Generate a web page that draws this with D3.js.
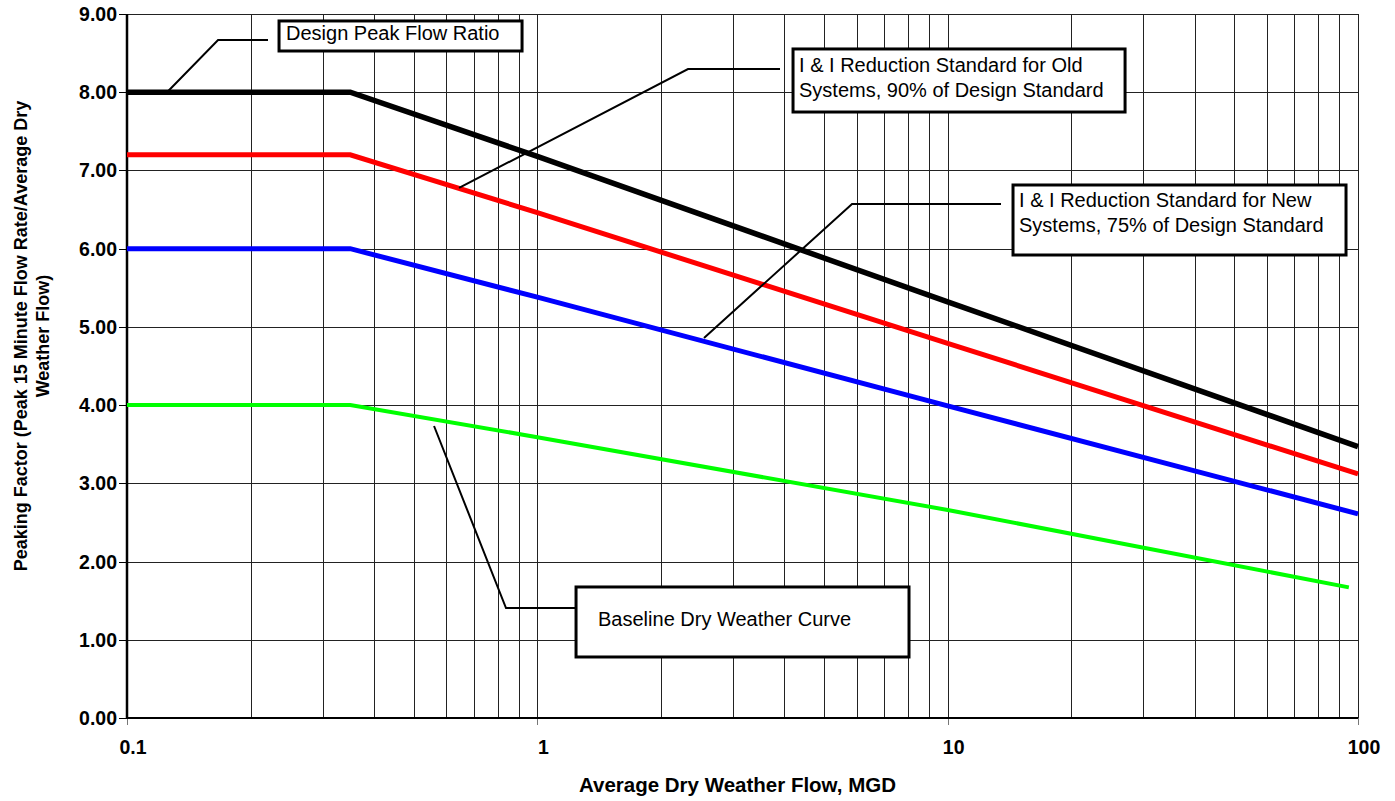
<!DOCTYPE html>
<html>
<head>
<meta charset="utf-8">
<script src="https://d3js.org/d3.v7.min.js"></script>
<style>
  body { margin: 0; background: #fff; }
  text { font-family: "Liberation Sans", Arial, sans-serif; }
</style>
</head>
<body>
<script>
// flow (MGD) break points
const flowMGD = [0.1, 0.35, 1, 10, 100];
const baselineFlow = [0.1, 0.35, 1, 10, 95];

// peaking factor values per curve
const designRatio = [8.0, 8.0, 7.18, 5.32, 3.47];
const oldSystems = [7.2, 7.2, 6.46, 4.79, 3.12];
const newSystems = [6.0, 6.0, 5.38, 3.99, 2.61];
const baselineDry = [4.0, 4.0, 3.59, 2.66, 1.67];

const yTicks = [0, 1, 2, 3, 4, 5, 6, 7, 8, 9];
const xTickLabels = [0.1, 1, 10, 100];

// callout boxes and their leader lines, in data units (flow, factor)
const callouts = [
  { lines: ["Design Peak Flow Ratio"], box: [0.2347, 0.9178, 8.911, 8.527], pad: 7, base: [40],
    leader: [[0.1252, 8.0], [0.1667, 8.668], [0.2206, 8.668]] },
  { lines: ["I & I Reduction Standard for Old", "Systems, 90% of Design Standard"], box: [4.199, 27.06, 8.553, 7.747], pad: 6, base: [72, 97],
    leader: [[0.6445, 6.776], [2.329, 8.297], [3.903, 8.297]] },
  { lines: ["I & I Reduction Standard for New", "Systems, 75% of Design Standard"], box: [14.43, 93.5, 6.814, 5.919], pad: 6, base: [207, 232],
    leader: [[2.548, 4.858], [5.847, 6.571], [13.49, 6.571]] },
  { lines: ["Baseline Dry Weather Curve"], box: [1.2426, 8.05, 1.675, 0.780], pad: 22, base: [626],
    leader: [[0.5601, 3.733], [0.8388, 1.406], [1.2426, 1.406]] }
];

const W = 1395, H = 801;
const margin = { left: 127, right: 37, top: 14, bottom: 83 };

const svg = d3.select("body").append("svg")
  .attr("width", W).attr("height", H);

const x = d3.scaleLog().domain([0.1, 100]).range([margin.left, W - margin.right]);
const y = d3.scaleLinear().domain([0, 9]).range([H - margin.bottom, margin.top]);

// minor + major vertical grid
const xGrid = [];
[0.1, 1, 10].forEach(d => { for (let k = 1; k <= 9; k++) xGrid.push(d * k); });
xGrid.push(100);

svg.append("g").selectAll("line")
  .data(xGrid)
  .join("line")
    .attr("x1", d => Math.round(x(d)) + 0.5).attr("x2", d => Math.round(x(d)) + 0.5)
    .attr("y1", y(9)).attr("y2", y(0))
    .attr("stroke", "#222").attr("stroke-width", 1);

svg.append("g").selectAll("line")
  .data(yTicks)
  .join("line")
    .attr("x1", x(0.1)).attr("x2", x(100))
    .attr("y1", d => Math.round(y(d)) + 0.5).attr("y2", d => Math.round(y(d)) + 0.5)
    .attr("stroke", "#222").attr("stroke-width", 1);

// y ticks + labels
svg.append("g").selectAll("line")
  .data(yTicks)
  .join("line")
    .attr("x1", x(0.1) - 8).attr("x2", x(0.1))
    .attr("y1", d => Math.round(y(d)) + 0.5).attr("y2", d => Math.round(y(d)) + 0.5)
    .attr("stroke", "#000");

svg.append("g").selectAll("text")
  .data(yTicks)
  .join("text")
    .attr("x", x(0.1) - 10)
    .attr("y", d => y(d) + 7)
    .attr("text-anchor", "end")
    .attr("font-size", 19.5).attr("font-weight", "bold")
    .text(d => d.toFixed(2));

// x ticks + labels
svg.append("g").selectAll("line")
  .data(xTickLabels)
  .join("line")
    .attr("x1", d => Math.round(x(d)) + 0.5).attr("x2", d => Math.round(x(d)) + 0.5)
    .attr("y1", y(0)).attr("y2", y(0) + 7)
    .attr("stroke", "#777");

svg.append("g").selectAll("text")
  .data(xTickLabels)
  .join("text")
    .attr("x", d => x(d) + 6)
    .attr("y", y(0) + 36)
    .attr("text-anchor", "middle")
    .attr("font-size", 19.5).attr("font-weight", "bold")
    .text(d => String(d));

// axes lines
svg.append("line")
  .attr("x1", x(0.1)).attr("x2", x(0.1)).attr("y1", y(9)).attr("y2", y(0))
  .attr("stroke", "#000").attr("stroke-width", 2.5);
svg.append("line")
  .attr("x1", x(0.1)).attr("x2", x(100)).attr("y1", y(0)).attr("y2", y(0))
  .attr("stroke", "#000").attr("stroke-width", 2);

// curves
const line = d3.line().x(d => x(d[0])).y(d => y(d[1]));
const series = [
  { xs: baselineFlow, ys: baselineDry, color: "#00ff00", w: 4 },
  { xs: flowMGD, ys: newSystems, color: "#0000ff", w: 5 },
  { xs: flowMGD, ys: oldSystems, color: "#ff0000", w: 5 },
  { xs: flowMGD, ys: designRatio, color: "#000000", w: 5.5 }
];
svg.append("g").selectAll("path")
  .data(series)
  .join("path")
    .attr("d", s => line(s.xs.map((v, i) => [v, s.ys[i]])))
    .attr("fill", "none")
    .attr("stroke", s => s.color)
    .attr("stroke-width", s => s.w);

// callouts
const co = svg.append("g").selectAll("g").data(callouts).join("g");
co.append("path")
  .attr("d", c => line(c.leader))
  .attr("fill", "none").attr("stroke", "#000").attr("stroke-width", 2);
co.append("rect")
  .attr("x", c => x(c.box[0])).attr("y", c => y(c.box[2]))
  .attr("width", c => x(c.box[1]) - x(c.box[0]))
  .attr("height", c => y(c.box[3]) - y(c.box[2]))
  .attr("fill", "#fff").attr("stroke", "#000").attr("stroke-width", 3);
co.each(function(c) {
  const g = d3.select(this);
  c.lines.forEach((t, i) => {
    g.append("text")
      .attr("x", x(c.box[0]) + c.pad)
      .attr("y", c.base[i])
      .attr("font-size", 20)
      .attr("fill", "#000")
      .text(t);
  });
});

// axis titles
svg.append("text")
  .attr("x", (x(0.1) + x(100)) / 2 - 5)
  .attr("y", 792)
  .attr("text-anchor", "middle")
  .attr("font-size", 20.5).attr("font-weight", "bold")
  .text("Average Dry Weather Flow, MGD");

const yt = svg.append("text")
  .attr("transform", `translate(27,${(y(0) + y(9)) / 2 - 30}) rotate(-90)`)
  .attr("text-anchor", "middle")
  .attr("font-size", 18).attr("font-weight", "bold");
yt.append("tspan").attr("x", 0).attr("dy", 0).text("Peaking Factor (Peak 15 Minute Flow Rate/Average Dry");
yt.append("tspan").attr("x", 0).attr("dy", 22).text("Weather Flow)");
</script>
</body>
</html>
